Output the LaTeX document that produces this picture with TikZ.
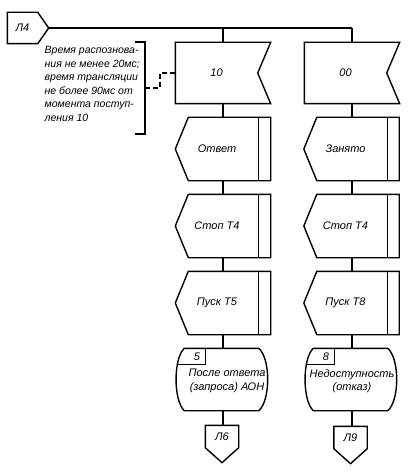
\documentclass[tikz,border=0pt]{standalone}
\usepackage{fontspec}
\setmainfont{Liberation Sans}
\usetikzlibrary{calc}
\newcommand\drawsig[1]{\draw (#1.north west) -- ($(#1.north east)+(13,0)$) -- (#1.east) -- ($(#1.south east)+(13,0)$) -- (#1.south west) -- cycle;}
\newcommand\drawproc[1]{\draw (#1.west) -- ($(#1.north west)+(13,0)$) -- ($(#1.north east)+(12,0)$) -- ($(#1.south east)+(12,0)$) -- ($(#1.south west)+(13,0)$) -- cycle; \draw (#1.north east) -- (#1.south east);}
\newcommand\drawterm[1]{\draw ($(#1.north west)+(9,0)$) -- ($(#1.north east)+(-10,0)$) .. controls ($(#1.north east)+(2,10)$) and ($(#1.south east)+(2,-10)$) .. ($(#1.south east)+(-10,0)$) -- ($(#1.south west)+(9,0)$) .. controls ($(#1.south west)+(-2,-10)$) and ($(#1.north west)+(-2,10)$) .. cycle;
 \draw ($(#1.north west)+(2.5,16)$) -- ($(#1.north west)+(30,16)$) -- ($(#1.north west)+(30,0)$);}
\newcommand\drawconn[1]{\draw (#1.north west) -- (#1.north east) -- (#1.south east) -- ($(#1.south)+(0,15)$) -- (#1.south west) -- cycle;}
\begin{document}
\begin{tikzpicture}[x=1pt,y=-1pt,line width=1.4pt,
  every node/.style={font=\itshape\fontsize{11}{13.5}\selectfont,inner sep=0pt},
  sig/.style={minimum width=81pt,minimum height=60pt},
  proc/.style={minimum width=82pt,minimum height=62pt},
  term/.style={minimum width=92pt,minimum height=61pt},
  conn/.style={minimum width=32pt,minimum height=21pt},
  note/.style={font=\itshape\fontsize{10.5}{13.5}\selectfont,align=left,anchor=north west},
  dsh/.style={dashed,dash pattern=on 5pt off 3pt,line width=1.2pt}]
\useasboundingbox (0,0) rectangle (413,476);
\coordinate (c1) at (223,0);
\coordinate (c2) at (352,0);
% start connector
\node[minimum width=29pt,minimum height=30pt] (l4) at (22.5,28) {Л4};
\draw (l4.north west) -- (l4.north east) -- ($(l4.east)+(11,0)$) -- (l4.south east) -- (l4.south west) -- cycle;
\coordinate (b4) at ($(l4.east)+(11,0)$);
% left column
\node[sig] (r10) at (216.5,73) {10};
\node[proc] (o1) at (217,149) {Ответ};
\node[proc] (s1) at (217,226) {Стоп Т4};
\node[proc] (p1) at (217,303) {Пуск Т5};
\node[term] (t1) at (222,379.5) {};
\node (n1) at (197,357) {5};
\node[align=center] (x1) at (227,381) {После ответа\\(запроса) АОН};
\node[conn] (l6) at (222,436.5) {Л6};
% right column
\node[sig] (r00) at (345.5,73) {00};
\node[proc] (o2) at (345.5,149) {Занято};
\node[proc] (s2) at (345.5,226) {Стоп Т4};
\node[proc] (p2) at (345.5,303) {Пуск Т8};
\node[term] (t2) at (351,379.5) {};
\node (n2) at (326,357) {8};
\node[align=center] (x2) at (352,381) {Недоступность\\(отказ)};
\node[conn] (l9) at (350.5,437.5) {Л9};
\drawsig{r10}\drawproc{o1}\drawproc{s1}\drawproc{p1}\drawterm{t1}\drawconn{l6}
\drawsig{r00}\drawproc{o2}\drawproc{s2}\drawproc{p2}\drawterm{t2}\drawconn{l9}
% bus and flow lines
\draw (b4) -- (b4 -| c2);
\draw (c1 |- b4) -- (c1 |- r10.north);
\draw (c2 |- b4) -- (c2 |- r00.north);
\draw (c1 |- r10.south) -- (c1 |- o1.north);
\draw (c1 |- o1.south) -- (c1 |- s1.north);
\draw (c1 |- s1.south) -- (c1 |- p1.north);
\draw (c1 |- p1.south) -- (c1 |- t1.north);
\draw (c1 |- t1.south) -- (c1 |- l6.north);
\draw (c2 |- r00.south) -- (c2 |- o2.north);
\draw (c2 |- o2.south) -- (c2 |- s2.north);
\draw (c2 |- s2.south) -- (c2 |- p2.north);
\draw (c2 |- p2.south) -- (c2 |- t2.north);
\draw (c2 |- t2.south) -- (c2 |- l9.north);
% annotation
\node[note] (ann) at (44,46) {Время распознова-\\ния не менее 20мс;\\время трансляции\\не более 90мс от\\момента поступ-\\ления 10};
\coordinate (bt) at (145,42);
\coordinate (bb) at (145,134);
\coordinate (bm) at (145,88);
\draw ($(bt)+(-10,0)$) -- (bt) -- (bb) -- ($(bb)+(-10,0)$);
\draw[dsh] (bm) -- ++(15,0) |- (r10.west);
\end{tikzpicture}
\end{document}
